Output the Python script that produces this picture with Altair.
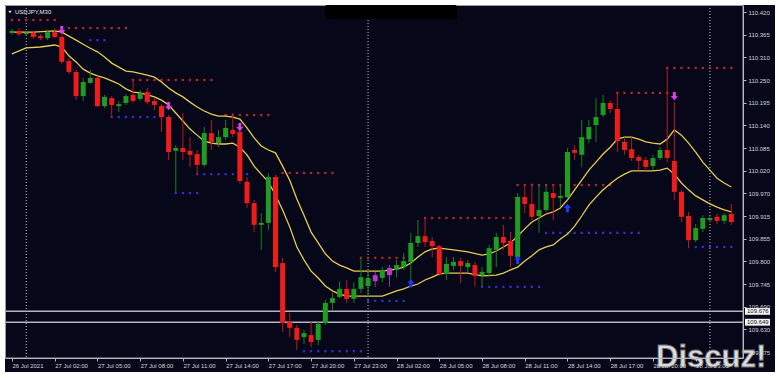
import altair as alt
import pandas as pd

# ---------------- data (USDJPY, M30, bar index 0 = 26 Jul 23:00) ----------------
open_ = [110.368, 110.373, 110.365, 110.368, 110.360, 110.355, 110.370, 110.358, 110.298, 110.271,
         110.211, 110.244, 110.256, 110.186, 110.206, 110.186, 110.194, 110.214, 110.204, 110.221,
         110.199, 110.186, 110.159, 110.075, 110.082, 110.075, 110.067, 110.040, 110.119, 110.094,
         110.109, 110.127, 110.122, 109.998, 109.945, 109.891, 109.896, 110.010, 109.796, 109.650,
         109.635, 109.612, 109.617, 109.605, 109.647, 109.697, 109.712, 109.732, 109.707, 109.732,
         109.739, 109.751, 109.759, 109.766, 109.779, 109.786, 109.799, 109.846, 109.863, 109.851,
         109.838, 109.769, 109.789, 109.801, 109.786, 109.791, 109.766, 109.771, 109.829, 109.861,
         109.851, 109.811, 109.960, 109.943, 109.913, 109.928, 109.970, 109.958, 109.960, 110.077,
         110.065, 110.104, 110.139, 110.164, 110.194, 110.179, 110.097, 110.079, 110.060, 110.052,
         110.037, 110.057, 110.077, 110.050, 109.973, 109.913, 109.853, 109.881, 109.903, 109.911,
         109.901, 109.918]
high = [110.378, 110.380, 110.373, 110.373, 110.365, 110.375, 110.380, 110.365, 110.306, 110.276,
        110.256, 110.276, 110.261, 110.214, 110.211, 110.199, 110.216, 110.251, 110.226, 110.231,
        110.206, 110.191, 110.164, 110.089, 110.169, 110.109, 110.077, 110.134, 110.152, 110.127,
        110.152, 110.169, 110.129, 110.010, 109.953, 109.920, 110.020, 110.015, 109.809, 109.672,
        109.642, 109.630, 109.650, 109.650, 109.704, 109.722, 109.751, 109.754, 109.749, 109.809,
        109.779, 109.774, 109.786, 109.791, 109.804, 109.821, 109.871, 109.903, 109.908, 109.861,
        109.841, 109.811, 109.811, 109.809, 109.804, 109.799, 109.786, 109.841, 109.871, 109.891,
        109.873, 109.970, 109.988, 109.993, 109.990, 109.990, 109.990, 109.990, 110.082, 110.089,
        110.152, 110.152, 110.206, 110.214, 110.201, 110.221, 110.109, 110.109, 110.065, 110.060,
        110.065, 110.084, 110.281, 110.196, 109.978, 109.923, 109.893, 109.915, 109.913, 109.918,
        109.920, 109.943]
low = [110.363, 110.360, 110.360, 110.353, 110.350, 110.350, 110.355, 110.291, 110.266, 110.201,
       110.199, 110.241, 110.184, 110.181, 110.159, 110.171, 110.189, 110.194, 110.199, 110.191,
       110.176, 110.122, 110.052, 109.973, 110.052, 110.035, 110.015, 110.035, 110.077, 110.084,
       110.102, 110.109, 109.993, 109.933, 109.873, 109.829, 109.878, 109.774, 109.625, 109.612,
       109.580, 109.595, 109.587, 109.592, 109.642, 109.679, 109.709, 109.697, 109.697, 109.722,
       109.712, 109.737, 109.749, 109.737, 109.761, 109.779, 109.754, 109.836, 109.836, 109.811,
       109.764, 109.754, 109.779, 109.746, 109.774, 109.737, 109.737, 109.761, 109.786, 109.829,
       109.786, 109.806, 109.920, 109.903, 109.871, 109.923, 109.903, 109.935, 109.958, 110.052,
       110.035, 110.094, 110.097, 110.159, 110.169, 110.072, 110.065, 110.050, 110.027, 110.025,
       110.027, 110.052, 110.047, 109.953, 109.898, 109.833, 109.848, 109.873, 109.898, 109.893,
       109.893, 109.891]
close = [110.373, 110.365, 110.368, 110.358, 110.355, 110.370, 110.358, 110.296, 110.271, 110.211,
         110.246, 110.256, 110.186, 110.209, 110.189, 110.191, 110.211, 110.199, 110.219, 110.196,
         110.189, 110.159, 110.072, 110.082, 110.072, 110.065, 110.040, 110.119, 110.097, 110.109,
         110.132, 110.117, 110.000, 109.945, 109.891, 109.896, 110.010, 109.786, 109.647, 109.635,
         109.605, 109.622, 109.600, 109.645, 109.697, 109.709, 109.732, 109.707, 109.732, 109.761,
         109.759, 109.766, 109.779, 109.784, 109.791, 109.801, 109.846, 109.863, 109.848, 109.838,
         109.769, 109.794, 109.799, 109.789, 109.796, 109.764, 109.774, 109.833, 109.861, 109.846,
         109.814, 109.960, 109.943, 109.911, 109.928, 109.973, 109.958, 109.963, 110.072, 110.070,
         110.109, 110.134, 110.159, 110.194, 110.179, 110.099, 110.077, 110.057, 110.050, 110.035,
         110.057, 110.077, 110.057, 109.973, 109.911, 109.853, 109.883, 109.908, 109.908, 109.901,
         109.915, 109.898]
highlight_bars = [51, 53]

upper_idx = [0, 3, 6, 7, 8, 9, 10, 11, 12, 13, 14, 15, 16, 17, 19, 20, 21, 22, 23, 24, 25, 26, 27, 28,
             29, 30, 31, 32, 33, 34, 35, 36, 37, 38, 39, 40, 41, 42, 43, 44, 45, 46, 47, 48, 50, 52,
             54, 55, 56, 57, 58, 59, 60, 62, 64, 66, 67, 68, 69, 70, 71, 72, 73, 74, 75, 76, 77, 78,
             79, 80, 81, 82, 83, 84, 85, 86, 87, 88, 89, 90, 91, 92, 93, 94, 95, 96, 97, 98, 99, 100, 101]
upper_val = [110.370, 110.370, 110.373, 110.370, 110.360, 110.350, 110.340, 110.330, 110.321, 110.308,
             110.293, 110.283, 110.273, 110.271, 110.263, 110.258, 110.246, 110.231, 110.219, 110.209,
             110.196, 110.184, 110.174, 110.166, 110.161, 110.161, 110.159, 110.154, 110.132, 110.107,
             110.087, 110.077, 110.070, 110.037, 110.002, 109.955, 109.915, 109.873, 109.846, 109.819,
             109.801, 109.791, 109.784, 109.776, 109.776, 109.776, 109.781, 109.786, 109.796, 109.811,
             109.824, 109.831, 109.833, 109.829, 109.824, 109.816, 109.819, 109.826, 109.836, 109.846,
             109.863, 109.881, 109.898, 109.908, 109.918, 109.923, 109.933, 109.953, 109.978, 110.002,
             110.027, 110.047, 110.067, 110.084, 110.104, 110.109, 110.109, 110.104, 110.097, 110.094,
             110.092, 110.104, 110.127, 110.114, 110.094, 110.072, 110.047, 110.027, 110.007, 109.995,
             109.985]
lower_idx = [0, 2, 4, 6, 7, 8, 9, 10, 11, 12, 13, 14, 15, 16, 17, 18, 19, 20, 21, 22, 23, 24, 25, 26,
             27, 28, 29, 30, 31, 32, 33, 34, 35, 36, 37, 38, 39, 40, 41, 42, 43, 44, 45, 46, 47, 48,
             50, 52, 54, 55, 56, 57, 58, 59, 60, 61, 64, 66, 68, 69, 70, 71, 72, 73, 74, 75, 76, 77,
             78, 79, 80, 81, 82, 83, 84, 85, 86, 87, 88, 90, 91, 92, 93, 94, 95, 96, 97, 98, 99, 100, 101]
lower_val = [110.316, 110.331, 110.333, 110.338, 110.333, 110.311, 110.296, 110.278, 110.268, 110.261,
             110.256, 110.249, 110.241, 110.229, 110.221, 110.219, 110.214, 110.209, 110.201, 110.189,
             110.169, 110.149, 110.129, 110.114, 110.099, 110.094, 110.092, 110.092, 110.094, 110.084,
             110.065, 110.037, 110.017, 109.998, 109.965, 109.928, 109.886, 109.836, 109.804, 109.776,
             109.759, 109.739, 109.727, 109.719, 109.714, 109.714, 109.714, 109.714, 109.727, 109.732,
             109.739, 109.744, 109.754, 109.761, 109.769, 109.771, 109.771, 109.764, 109.766, 109.771,
             109.779, 109.786, 109.801, 109.814, 109.829, 109.836, 109.841, 109.856, 109.868, 109.888,
             109.913, 109.940, 109.960, 109.978, 109.993, 110.007, 110.017, 110.025, 110.025, 110.025,
             110.027, 110.032, 110.017, 109.995, 109.978, 109.963, 109.953, 109.943, 109.935, 109.928,
             109.923]

sell_idx = [7, 22, 32, 93]
sell_price = [110.375, 110.186, 110.134, 110.211]
buy_idx = [56, 71, 78]
buy_price = [109.746, 109.804, 109.933]

res_price = [110.400, 110.380, 110.251, 110.164, 110.020, 109.809, 109.908, 109.990, 110.219, 110.281]
res_from = [0, 8, 17, 30, 38, 49, 58, 71, 85, 92]
res_to = [6, 16, 28, 36, 45, 55, 71, 84, 92, 101]
sup_price = [110.350, 110.159, 109.970, 110.017, 109.577, 109.702, 109.737, 109.871, 109.836]
sup_from = [11, 14, 23, 26, 41, 50, 66, 75, 96]
sup_to = [13, 21, 26, 33, 49, 55, 74, 88, 101]

hline_price = [109.676, 109.649]
hline_label = ["109.676", "109.649"]
day_sep_idx = [2, 50, 98]

y_tick_labels = ["110.420", "110.365", "110.310", "110.250", "110.195", "110.140", "110.085", "110.020",
                 "109.970", "109.915", "109.855", "109.800", "109.745", "109.690", "109.630", "109.575"]
x_tick_labels = ["26 Jul 2021", "27 Jul 02:00", "27 Jul 05:00", "27 Jul 08:00", "27 Jul 11:00",
                 "27 Jul 14:00", "27 Jul 17:00", "27 Jul 20:00", "27 Jul 23:00", "28 Jul 02:00",
                 "28 Jul 05:00", "28 Jul 08:00", "28 Jul 11:00", "28 Jul 14:00", "28 Jul 17:00",
                 "28 Jul 20:00", "28 Jul 23:00"]

# ---------------- layout / style ----------------
W, H = 738, 353
X_DOMAIN = [-0.277, 101.94]
Y_DOMAIN = [109.5601, 110.4374]
BG = "#07071a"
FONT = "Liberation Sans"

xs = alt.Scale(domain=X_DOMAIN, nice=False, zero=False)
ys = alt.Scale(domain=Y_DOMAIN, nice=False, zero=False)

ystep = (110.420 - 109.575) / 15
y_ticks = [round(110.420 - k * ystep, 6) for k in range(16)]
y_expr = "[" + ",".join("'%s'" % s for s in y_tick_labels) + "][round((110.42 - datum.value) / %.7f)]" % ystep
x_ticks = [6 * k for k in range(len(x_tick_labels))]
x_expr = "[" + ",".join("'%s'" % s for s in x_tick_labels) + "][round(datum.value / 6)]"

x_axis = alt.Axis(values=x_ticks, labelExpr=x_expr, orient="bottom", title=None, grid=False,
                  domainColor="#b8b8c0", tickColor="#b8b8c0", tickSize=3, labelColor="#d4d4d8",
                  labelFont=FONT, labelFontSize=6, labelAlign="left", labelPadding=1,
                  labelOverlap=False, labelFlush=False, labelBound=False, zindex=1)
y_axis = alt.Axis(values=y_ticks, labelExpr=y_expr, orient="right", title=None, grid=False,
                  domainColor="#b8b8c0", tickColor="#b8b8c0", tickSize=3, labelColor="#d4d4d8",
                  labelFont=FONT, labelFontSize=6, labelPadding=2, labelOverlap=False,
                  labelFlush=False, labelBound=False, zindex=1)


def X(f):
    return alt.X(f, type="quantitative", scale=xs, axis=x_axis)


def Y(f):
    return alt.Y(f, type="quantitative", scale=ys, axis=y_axis)


# ---------------- frames ----------------
n = len(open_)
bars = pd.DataFrame({"i": list(range(n)), "open": open_, "high": high, "low": low, "close": close})
bars["top"] = bars[["open", "close"]].max(axis=1)
bars["bot"] = bars[["open", "close"]].min(axis=1)


def body_color(r):
    if r["i"] in highlight_bars:
        return "#b43cc4"
    return "#1f9c22" if r["close"] >= r["open"] else "#f01c1c"


def wick_color(r):
    if r["i"] in highlight_bars:
        return "#9c30ac"
    return "#1a7e1c" if r["close"] >= r["open"] else "#c01818"


bars["bc"] = bars.apply(body_color, axis=1)
bars["wc"] = bars.apply(wick_color, axis=1)

bands = pd.concat([
    pd.DataFrame({"i": upper_idx, "v": upper_val, "band": "upper"}),
    pd.DataFrame({"i": lower_idx, "v": lower_val, "band": "lower"}),
])

dots = []
for p, a, b in zip(res_price, res_from, res_to):
    for k in range(a, b + 1):
        dots.append({"i": k, "p": p, "c": "#c42828"})
for p, a, b in zip(sup_price, sup_from, sup_to):
    for k in range(a, b + 1):
        dots.append({"i": k, "p": p, "c": "#3434d4"})
dots = pd.DataFrame(dots)

sells = pd.DataFrame({"i": sell_idx, "p": sell_price})
buys = pd.DataFrame({"i": buy_idx, "p": buy_price})
hl = pd.DataFrame({"p": hline_price, "lab": hline_label})
hl["t"] = hl["p"] + 0.0085
hl["b"] = hl["p"] - 0.0085
seps = pd.DataFrame({"i": day_sep_idx})
one = pd.DataFrame({"a": [0]})

DOWN = "M0,1 L0.85,0 L0.35,0 L0.35,-1 L-0.35,-1 L-0.35,0 L-0.85,0 Z"
UP = "M0,-1 L0.85,0 L0.35,0 L0.35,1 L-0.35,1 L-0.35,0 L-0.85,0 Z"

bg = alt.Chart(one).mark_rect(color=BG).encode(
    x=alt.value(0), x2=alt.value(W + 32), y=alt.value(0), y2=alt.value(H + 14))

sep = alt.Chart(seps).mark_rule(color="#c8c8d0", strokeDash=[1, 2], strokeWidth=1).encode(x=X("i"))

dot_layer = alt.Chart(dots).mark_square(size=5, opacity=0.95).encode(
    x=X("i"), y=Y("p"), color=alt.Color("c:N", scale=None))

hlines = alt.Chart(hl).mark_rule(color="#b4b4bc", strokeWidth=1.5).encode(y=Y("p"))

band_layer = alt.Chart(bands).mark_line(color="#e8cc50", strokeWidth=1.3).encode(
    x=X("i"), y=Y("v"), detail="band:N")

wicks = alt.Chart(bars).mark_rule(strokeWidth=1).encode(
    x=X("i"), y=Y("low"), y2="high:Q", color=alt.Color("wc:N", scale=None))

bodies = alt.Chart(bars).mark_bar(size=5).encode(
    x=X("i"), y=Y("bot"), y2="top:Q", color=alt.Color("bc:N", scale=None))

sell_layer = alt.Chart(sells).mark_point(shape=DOWN, filled=True, size=70, color="#e03ce8", opacity=1).encode(
    x=X("i"), y=Y("p"))
buy_layer = alt.Chart(buys).mark_point(shape=UP, filled=True, size=70, color="#2236ff", opacity=1).encode(
    x=X("i"), y=Y("p"))

frame = alt.Chart(one).mark_rect(fillOpacity=0, stroke="#9c9ca4", strokeWidth=1).encode(
    x=alt.value(0.5), x2=alt.value(W), y=alt.value(0.5), y2=alt.value(H))

box = alt.Chart(hl).mark_rect(color="#f4f4f4").encode(
    x=alt.value(W + 2), x2=alt.value(W + 27), y=Y("t"), y2="b:Q")
box_txt = alt.Chart(hl).mark_text(align="left", baseline="middle", fontSize=6, font=FONT,
                                  color="#101010").encode(
    x=alt.value(W + 4), y=Y("p"), text="lab:N")

title_tri = alt.Chart(one).mark_point(shape="triangle-down", filled=True, size=10, color="#e8e8e8",
                                      opacity=1).encode(x=alt.value(5), y=alt.value(7))
title_txt = alt.Chart(one).mark_text(align="left", baseline="middle", fontSize=6, font=FONT,
                                     color="#e8e8e8").encode(
    x=alt.value(10), y=alt.value(7), text=alt.value("USDJPY,M30"))

redact = alt.Chart(one).mark_rect(color="#000000", cornerRadius=2).encode(
    x=alt.value(320), x2=alt.value(452), y=alt.value(0), y2=alt.value(14))

wm = alt.Chart(one).mark_text(align="left", baseline="alphabetic", fontSize=31, font=FONT,
                              fontWeight="bold", color="#dcdcdc", stroke="#6c6c6c",
                              strokeWidth=0.8).encode(
    x=alt.value(651), y=alt.value(362), text=alt.value("Discuz!"))

chart = alt.layer(
    bg, sep, dot_layer, hlines, band_layer, wicks, bodies, sell_layer, buy_layer,
    frame, box, box_txt, title_tri, title_txt, redact, wm
).properties(
    width=W, height=H, background="#ffffff",
    padding={"left": 5, "top": 5, "right": 35, "bottom": 20},
    autosize=alt.AutoSizeParams(type="none")
).configure_view(stroke=None)

chart.save("out.html", embed_options={"renderer": "svg", "actions": False})
